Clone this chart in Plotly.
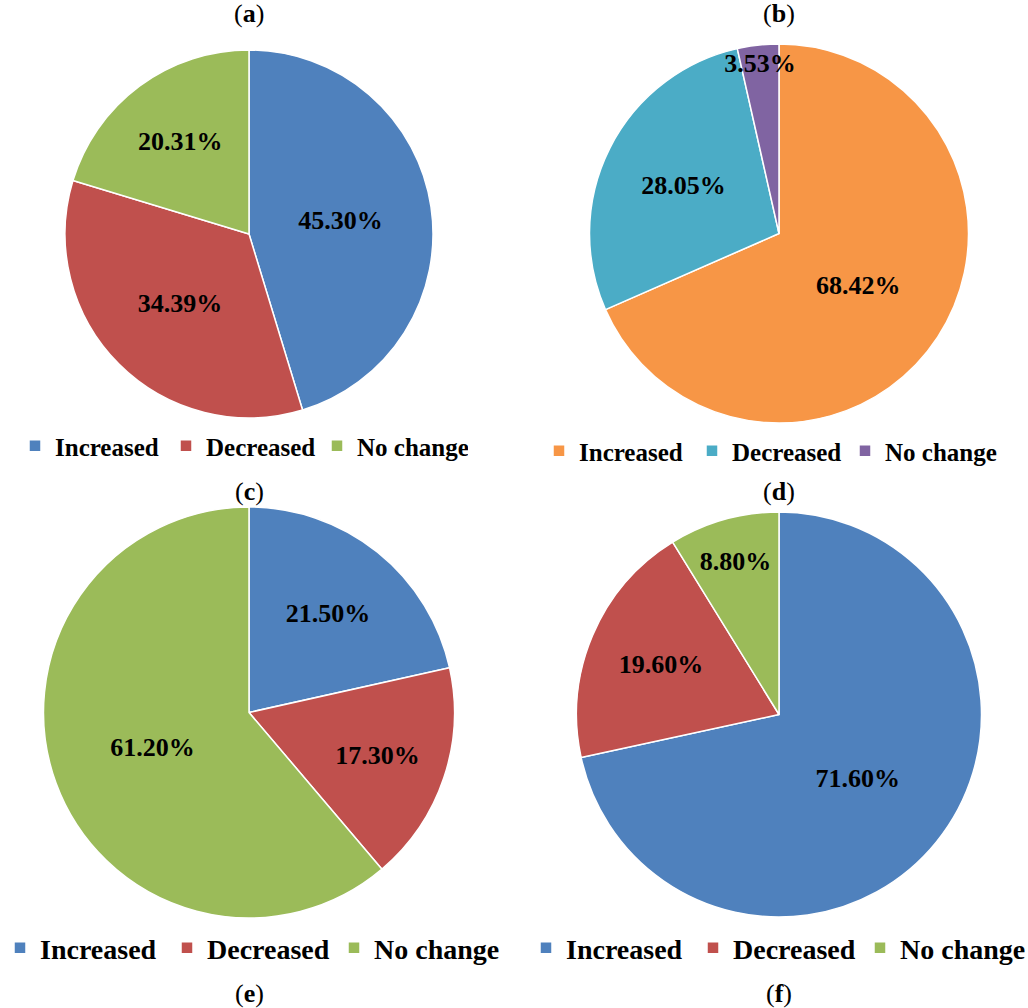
import plotly.graph_objects as go

W, H = 1028, 1008

categories = ["Increased", "Decreased", "No change"]
panel_titles = ["a", "b", "c", "d", "e", "f"]
values_a = [45.30, 34.39, 20.31]
values_b = [68.42, 28.05, 3.53]
values_c = [21.50, 17.30, 61.20]
values_d = [71.60, 19.60, 8.80]

colors_std = ["#4F81BD", "#C0504D", "#9BBB59"]
colors_b = ["#F79646", "#4BACC6", "#8064A2"]

# layout geometry (pixel centre x, centre y, radius)
geo = {
    "a": (249, 234, 184),
    "b": (779, 233.5, 189.5),
    "c": (249, 712.5, 205.5),
    "d": (779, 714.5, 202.5),
}
# legend placement (left x px, centre y px, font size, entry width)
leg = {
    "a": (15, 446, 25, 106),
    "b": (539, 451, 25, 108),
    "c": (0, 948, 28, 122),
    "d": (526, 948, 28, 122),
}
title_pos = {"a": (249, 14), "b": (779, 14), "c": (249, 491), "d": (779, 491),
             "e": (249, 993), "f": (779, 993)}

FONT = "Liberation Serif, Times New Roman, serif"

fig = go.Figure()
series = [("a", values_a, colors_std), ("b", values_b, colors_b),
          ("c", values_c, colors_std), ("d", values_d, colors_std)]

legend_names = ["legend", "legend2", "legend3", "legend4"]
for i, (key, vals, cols) in enumerate(series):
    cx, cy, r = geo[key]
    # invisible suffix keeps each pie's legend entries separate
    labels = [c + "\u200b" * i for c in categories]
    fig.add_trace(go.Pie(
        labels=labels,
        values=vals,
        sort=False,
        direction="clockwise",
        rotation=0,
        marker=dict(colors=cols, line=dict(color="white", width=1.5)),
        texttemplate="%{value:.2f}%",
        textposition="inside",
        insidetextorientation="horizontal",
        textfont=dict(family=FONT, size=26, color="black", weight="bold"),
        domain=dict(x=[(cx - r) / W, (cx + r) / W], y=[1 - (cy + r) / H, 1 - (cy - r) / H]),
        legend=legend_names[i],
        showlegend=True,
        hoverinfo="label+percent",
    ))

layout_legends = {}
for i, key in enumerate(["a", "b", "c", "d"]):
    lx, ly, fs, ew = leg[key]
    layout_legends[legend_names[i]] = dict(
        orientation="h",
        xref="container", yref="container",
        x=lx / W, xanchor="left",
        y=1 - ly / H, yanchor="middle",
        font=dict(family=FONT, size=fs, color="black", weight="bold"),
        entrywidth=ew, entrywidthmode="pixels",
        bgcolor="rgba(0,0,0,0)",
        traceorder="normal",
    )

annotations = []
for t in panel_titles:
    x, y = title_pos[t]
    annotations.append(dict(
        text="(<b>%s</b>)" % t, x=x / W, y=1 - y / H, xref="paper", yref="paper",
        showarrow=False, xanchor="center", yanchor="middle",
        font=dict(family=FONT, size=26, color="black"),
    ))

fig.update_layout(
    width=W, height=H,
    margin=dict(l=0, r=0, t=0, b=0, autoexpand=False),
    paper_bgcolor="white",
    plot_bgcolor="white",
    uniformtext=dict(minsize=26, mode="show"),
    annotations=annotations,
    **layout_legends,
)

fig.write_html("out.html", config={"displayModeBar": False})
